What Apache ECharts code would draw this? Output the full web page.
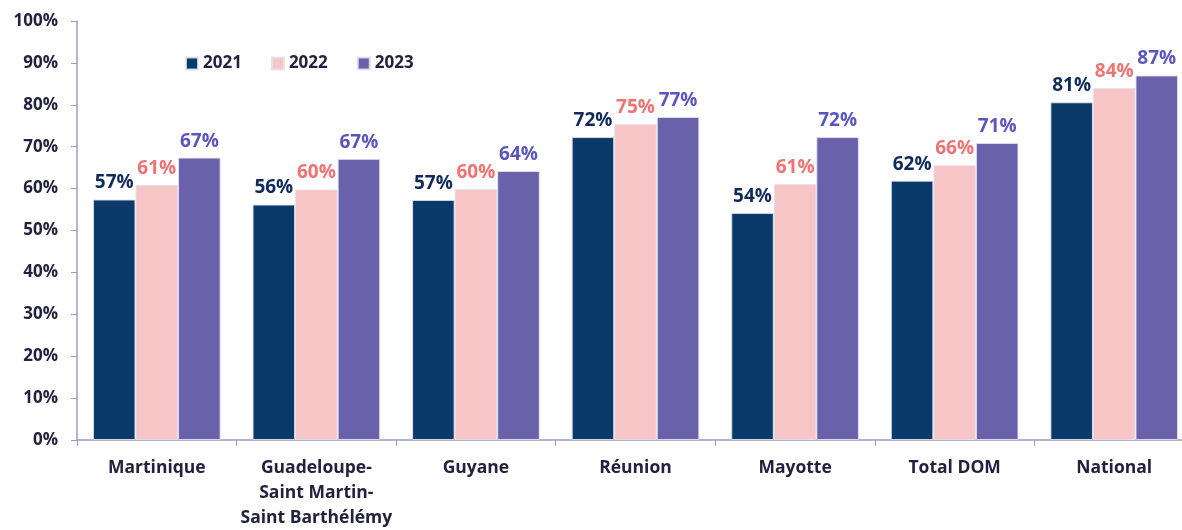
<!DOCTYPE html>
<html>
<head>
<meta charset="utf-8">
<script src="https://cdn.jsdelivr.net/npm/echarts@6/dist/echarts.min.js"></script>
<style>
  html, body { margin: 0; padding: 0; background: #fff; }
  #chart { width: 1182px; height: 530px; }
</style>
</head>
<body>
<div id="chart"></div>
<script>
const categories = ['Martinique', 'Guadeloupe-\nSaint Martin-\nSaint Barthélémy', 'Guyane', 'Réunion', 'Mayotte', 'Total DOM', 'National']
const years = ['2021', '2022', '2023']
const values2021 = [57.4, 56.2, 57.3, 72.3, 54.2, 61.9, 80.6]
const values2022 = [60.9, 59.8, 59.9, 75.4, 61.1, 65.6, 84.0]
const values2023 = [67.4, 67.1, 64.2, 77.1, 72.3, 70.9, 87.0]
const yTicks = [0, 10, 20, 30, 40, 50, 60, 70, 80, 90, 100]

const barColors = ['#0a3a69', '#f8c5c7', '#6961aa']
const labelColors = ['#102a5c', '#f07272', '#5b55c0']
const textColor = '#22223f'
const axisColor = '#9b9bc9'
const font = '"Open Sans", Lato, sans-serif'

const chart = echarts.init(document.getElementById('chart'))

function makeSeries(name, data, i) {
  return {
    name, type: 'bar', data,
    barGap: 0, barCategoryGap: '20%',
    itemStyle: { color: barColors[i], borderColor: 'rgba(225,225,240,0.9)', borderWidth: 1 },
    label: {
      show: true, position: 'top', distance: 7,
      formatter: p => Math.round(p.value) + '%',
      color: labelColors[i], fontFamily: font, fontWeight: 'bold', fontSize: 19
    }
  }
}

chart.setOption({
  animation: false,
  grid: { left: 77, right: -12, top: 21, bottom: 90, outerBoundsMode: 'none', containLabel: false },
  legend: {
    data: years, left: 180, top: 50,
    itemWidth: 12, itemHeight: 12, itemGap: 29,
    icon: 'rect',
    textStyle: { color: textColor, fontFamily: font, fontWeight: 'bold', fontSize: 17 }
  },
  xAxis: {
    type: 'category', data: categories,
    axisLine: { lineStyle: { color: axisColor, width: 1.5 } },
    axisTick: { show: true, length: 6, lineStyle: { color: axisColor } },
    axisLabel: {
      color: textColor, fontFamily: font, fontWeight: 'bold', fontSize: 17.5,
      margin: 16, lineHeight: 25, interval: 0
    },
    splitLine: { show: false }
  },
  yAxis: {
    type: 'value', min: yTicks[0], max: yTicks[yTicks.length - 1], interval: 10,
    axisLine: { show: true, lineStyle: { color: axisColor, width: 1.5 } },
    axisTick: { show: true, length: 6, lineStyle: { color: axisColor } },
    axisLabel: {
      color: textColor, fontFamily: font, fontWeight: 'bold', fontSize: 17,
      margin: 19, formatter: v => v + '%'
    },
    splitLine: { show: false }
  },
  series: [
    makeSeries(years[0], values2021, 0),
    makeSeries(years[1], values2022, 1),
    makeSeries(years[2], values2023, 2)
  ]
})
</script>
</body>
</html>
